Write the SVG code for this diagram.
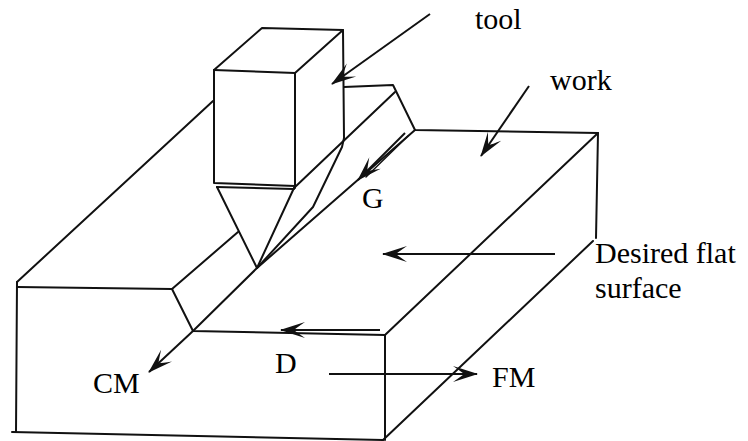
<svg xmlns="http://www.w3.org/2000/svg" width="748" height="441" viewBox="0 0 748 441">
<style>
.e{fill:none;stroke:#111;stroke-width:2;stroke-linecap:round;stroke-linejoin:round}
.a{fill:none;stroke:#111;stroke-width:2;marker-end:url(#ah)}
.t{font-family:"Liberation Serif","Times New Roman",serif;font-size:30px;fill:#000}
</style>
<defs>
<marker id="ah" markerUnits="userSpaceOnUse" markerWidth="30" markerHeight="20" viewBox="-26 -10 28 20" refX="0" refY="0" orient="auto">
<path d="M1,0 L-24,-8 Q-16,-2.5 -13,0 Q-16,2.5 -24,8 Z" fill="#111"/>
</marker>
</defs>
<rect width="748" height="441" fill="#fff"/>
<g id="work">
<polyline class="e" points="17,282 16,432"/>
<polyline class="e" points="12,432 383,440"/>
<polyline class="e" points="17,282 213,101"/>
<polyline class="e" points="17,287 172,289 193,331 385,335 385,440"/>
<polyline class="e" points="172,289 238,232"/>
<polyline class="e" points="385,335 598,133 415,130 393,85 344,87"/>
<polyline class="e" points="598,133 596,238"/>
<polyline class="e" points="383,440 593,241"/>
<polyline class="e" points="294,188 395,92"/>
<polyline class="e" points="415,130 257,268 193,331"/>
</g>
<g id="tool">
<polyline class="e" points="214,70 295,73 295,188"/>
<polyline class="e" points="214,70 214,183 295,186"/>
<polyline class="e" points="214,70 262,28 343,30 295,73"/>
<polyline class="e" points="343,30 344,138 342,147 313,207 257,268"/>
<polyline class="e" points="217,187 294,189"/>
<polyline class="e" points="217,187 257,268 294,188"/>
</g>
<g id="connectors">
<line class="a" x1="430" y1="14" x2="332" y2="84"/>
<line class="a" x1="529" y1="86" x2="481" y2="156"/>
<line class="a" x1="405" y1="133" x2="358" y2="180"/>
<line class="e" x1="408" y1="136" x2="366" y2="177" style="stroke-width:1.4"/>
<line class="a" x1="555" y1="254" x2="383" y2="254"/>
<line class="a" x1="380" y1="330" x2="281" y2="330"/>
<line class="a" x1="193" y1="331" x2="149" y2="372"/>
<line class="a" x1="329" y1="374" x2="477" y2="374"/>
</g>
<g id="labels">
<text class="t" x="475" y="29">tool</text>
<text class="t" x="550" y="90">work</text>
<text class="t" x="362" y="208">G</text>
<text class="t" x="595" y="263">Desired flat</text>
<text class="t" x="595" y="298">surface</text>
<text class="t" x="93" y="393">CM</text>
<text class="t" x="275" y="373">D</text>
<text class="t" x="492" y="387">FM</text>
</g>
</svg>
